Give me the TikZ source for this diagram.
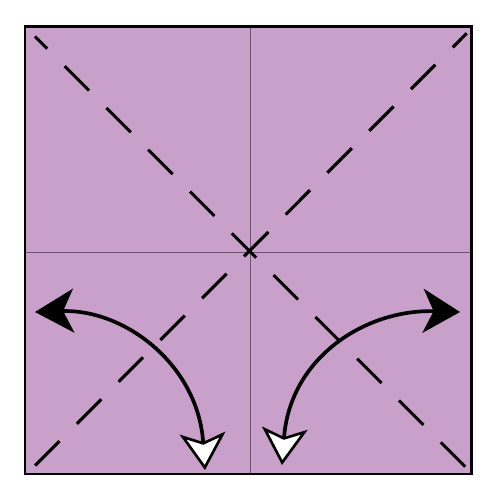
\documentclass[tikz,border=0pt]{standalone}
\usetikzlibrary{arrows.meta}
\definecolor{paper}{RGB}{200,160,202}
\definecolor{crease}{RGB}{105,85,110}
\begin{document}
\begin{tikzpicture}[x=0.02cm,y=-0.02cm,
  border/.style={line width=1.7pt,draw=black},
  midline/.style={line width=0.85pt,draw=crease},
  valley/.style={line width=1.8pt,draw=black,dash pattern=on 19.64pt off 14pt},
  foldarc/.style={line width=2.1pt,draw=black}]
\useasboundingbox (0,0) rectangle (500,500);
\coordinate (tl) at (25,26.7);
\coordinate (br) at (471.5,474);
\fill[paper] (tl) rectangle (br);
% centre creases
\coordinate (vt) at (250.7,26.7);
\coordinate (vb) at (250.7,474);
\coordinate (hl) at (25,252.3);
\coordinate (hr) at (471.5,252.3);
\draw[midline] (vt) -- (vb);
\draw[midline] (hl) -- (hr);
% diagonals
\coordinate (d1a) at (35,36.5);
\coordinate (d1b) at (467.7,469.2);
\coordinate (d2a) at (466.7,33.3);
\coordinate (d2b) at (33.3,467.3);
\draw[valley,dash phase=9.78pt] (d1a) -- (d1b);
\draw[valley,dash phase=8.4pt] (d2a) -- (d2b);
% fold arrows
\coordinate (la) at (35,312);
\coordinate (lb) at (205,470);
\coordinate (ra) at (460,312);
\coordinate (rb) at (282,465);
\draw[foldarc,{Stealth[length=22pt,width=25pt,inset=6pt]}-{Stealth[length=21pt,width=26pt,inset=5pt,fill=white,line width=1.5pt]}]
  (la) .. controls (125,309) and (198,365) .. (lb);
\draw[foldarc,{Stealth[length=21pt,width=25pt,inset=6pt]}-{Stealth[length=21pt,width=26pt,inset=5pt,fill=white,line width=1.5pt]}]
  (ra) .. controls (365,309) and (290,358) .. (rb);
\draw[border] (tl) rectangle (br);
\end{tikzpicture}
\end{document}
